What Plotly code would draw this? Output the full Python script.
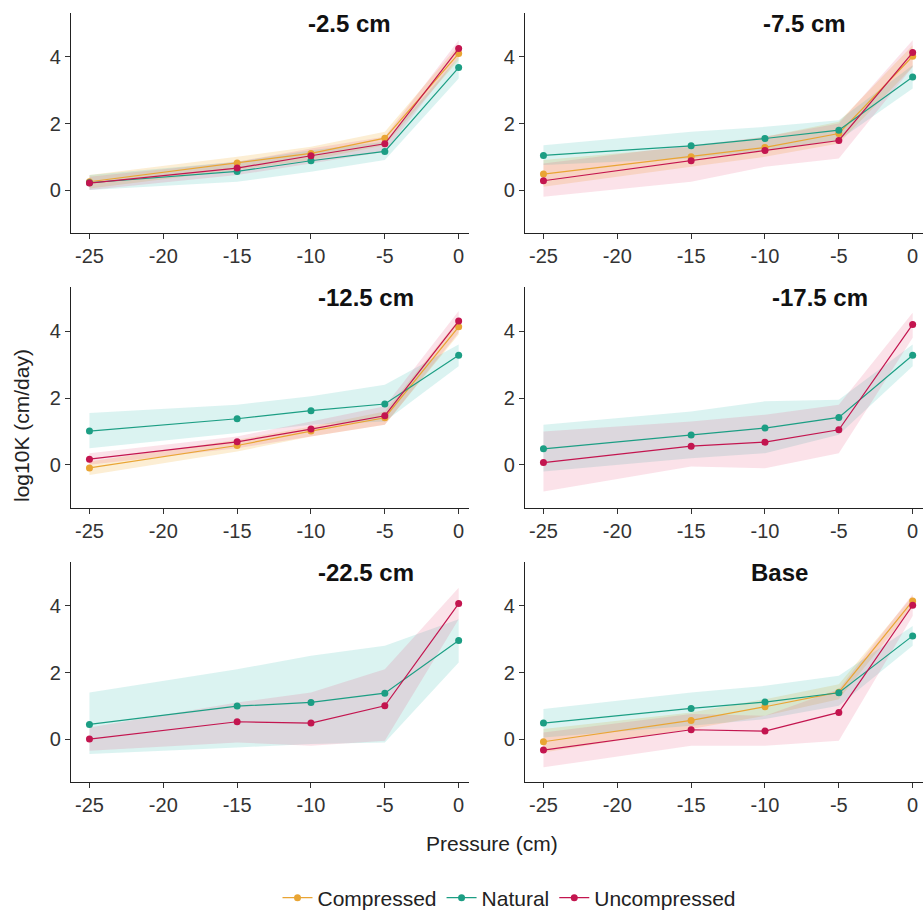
import plotly.graph_objects as go

# ---------------- data ----------------
pressure = [-25, -15, -10, -5, 0]
panels = ["-2.5 cm", "-7.5 cm", "-12.5 cm", "-17.5 cm", "-22.5 cm", "Base"]
series_names = ["Compressed", "Natural", "Uncompressed"]

compressed_mean = [
    [0.25, 0.81, 1.10, 1.56, 4.10],
    [0.48, 1.00, 1.28, 1.70, 4.02],
    [-0.09, 0.58, 1.01, 1.41, 4.13],
    None,
    None,
    [-0.08, 0.56, 0.97, 1.41, 4.15],
]
compressed_lo = [
    [0.05, 0.60, 0.90, 1.35, 3.90],
    [0.10, 0.70, 1.00, 1.40, 3.70],
    [-0.30, 0.40, 0.85, 1.20, 3.90],
    None,
    None,
    [-0.40, 0.30, 0.70, 1.20, 3.95],
]
compressed_hi = [
    [0.45, 1.00, 1.30, 1.75, 4.35],
    [0.90, 1.30, 1.60, 2.05, 4.35],
    [0.10, 0.75, 1.15, 1.60, 4.35],
    None,
    None,
    [0.30, 0.80, 1.20, 1.65, 4.30],
]

natural_mean = [
    [0.22, 0.56, 0.88, 1.16, 3.68],
    [1.04, 1.33, 1.55, 1.80, 3.40],
    [1.01, 1.38, 1.62, 1.82, 3.28],
    [0.48, 0.89, 1.10, 1.42, 3.28],
    [0.44, 0.99, 1.10, 1.38, 2.96],
    [0.48, 0.92, 1.11, 1.39, 3.10],
]
natural_lo = [
    [0.00, 0.25, 0.55, 0.90, 3.35],
    [0.75, 0.95, 1.20, 1.50, 3.05],
    [0.50, 0.95, 1.20, 1.30, 2.95],
    [-0.20, 0.20, 0.35, 0.90, 2.95],
    [-0.45, -0.25, -0.15, -0.10, 2.30],
    [0.05, 0.40, 0.60, 1.00, 2.80],
]
natural_hi = [
    [0.45, 0.85, 1.20, 1.45, 4.00],
    [1.35, 1.75, 1.90, 2.10, 3.75],
    [1.55, 1.80, 2.05, 2.40, 3.60],
    [1.20, 1.60, 1.90, 1.95, 3.60],
    [1.40, 2.10, 2.50, 2.80, 3.60],
    [0.90, 1.40, 1.60, 1.90, 3.40],
]

uncompressed_mean = [
    [0.21, 0.66, 1.03, 1.39, 4.25],
    [0.28, 0.88, 1.19, 1.49, 4.13],
    [0.17, 0.69, 1.07, 1.47, 4.30],
    [0.07, 0.56, 0.68, 1.05, 4.20],
    [0.00, 0.52, 0.48, 1.00, 4.07],
    [-0.33, 0.28, 0.24, 0.80, 4.02],
]
uncompressed_lo = [
    [0.00, 0.45, 0.80, 1.15, 4.00],
    [-0.20, 0.25, 0.70, 0.95, 3.70],
    [0.00, 0.50, 0.85, 1.20, 3.95],
    [-0.80, -0.05, -0.10, 0.35, 3.80],
    [-0.35, -0.10, -0.20, -0.05, 3.60],
    [-0.85, -0.20, -0.20, -0.05, 3.70],
]
uncompressed_hi = [
    [0.40, 0.85, 1.25, 1.60, 4.50],
    [0.80, 1.35, 1.60, 2.00, 4.50],
    [0.35, 0.85, 1.30, 1.75, 4.60],
    [1.00, 1.30, 1.50, 1.80, 4.55],
    [0.35, 1.10, 1.40, 2.10, 4.55],
    [0.20, 0.75, 0.70, 1.50, 4.35],
]

x_ticks = [-25, -20, -15, -10, -5, 0]
y_ticks = [0, 2, 4]
title_x = [-7.4, -7.35, -6.3, -6.3, -6.3, -9.0]

# ---------------- styling ----------------
W, H = 923, 912
FONT = "Liberation Sans, Arial, sans-serif"
line_colors = {"Compressed": "#E9A534", "Natural": "#1C9E84", "Uncompressed": "#C3154F"}
fill_colors = {
    "Compressed": "rgba(240,168,40,0.20)",
    "Natural": "rgba(40,185,170,0.17)",
    "Uncompressed": "rgba(230,60,110,0.15)",
}
means = {"Compressed": compressed_mean, "Natural": natural_mean, "Uncompressed": uncompressed_mean}
los = {"Compressed": compressed_lo, "Natural": natural_lo, "Uncompressed": uncompressed_lo}
his = {"Compressed": compressed_hi, "Natural": natural_hi, "Uncompressed": uncompressed_hi}

col_px = [(71, 469), (525, 923)]
col_range = [[-26.25, 0.7], [-26.25, 0.7]]
row_px = [(13, 233), (287, 508), (562, 782)]

fig = go.Figure()
layout = {}
for i, name in enumerate(panels):
    r, c = divmod(i, 2)
    ax = "" if i == 0 else str(i + 1)
    xa, ya = "x" + ax, "y" + ax
    x0, x1 = col_px[c]
    t, b = row_px[r]
    layout["xaxis" + ax] = dict(
        domain=[x0 / W, x1 / W], anchor=ya, range=col_range[c],
        tickvals=x_ticks, ticktext=[str(v) for v in x_ticks],
        showgrid=False, zeroline=False, showline=True, linecolor="#222", linewidth=1.3,
        ticks="outside", ticklen=5, tickwidth=1.1, tickcolor="#333",
        tickfont=dict(family=FONT, size=20, color="#333"),
        ticklabeloverflow="allow",
    )
    layout["yaxis" + ax] = dict(
        domain=[1 - b / H, 1 - t / H], anchor=xa, range=[-1.29, 5.32],
        tickvals=y_ticks, ticktext=[str(v) for v in y_ticks],
        showgrid=False, zeroline=False, showline=True, linecolor="#222", linewidth=1.3,
        ticks="outside", ticklen=5, tickwidth=1.1, tickcolor="#333",
        tickfont=dict(family=FONT, size=20, color="#333"),
    )
    for s in series_names:
        m = means[s][i]
        if m is None:
            continue
        lo, hi = los[s][i], his[s][i]
        fig.add_trace(go.Scatter(
            x=pressure + pressure[::-1], y=hi + lo[::-1], xaxis=xa, yaxis=ya,
            fill="toself", fillcolor=fill_colors[s], line=dict(width=0),
            mode="lines", hoverinfo="skip", showlegend=False,
        ))
    for s in series_names:
        m = means[s][i]
        if m is None:
            continue
        fig.add_trace(go.Scatter(
            x=pressure, y=m, xaxis=xa, yaxis=ya, mode="lines+markers", name=s,
            line=dict(color=line_colors[s], width=1.2),
            marker=dict(color=line_colors[s], size=7),
            showlegend=(i == 0), legendgroup=s,
        ))

annotations = []
for i, name in enumerate(panels):
    ax = "" if i == 0 else str(i + 1)
    annotations.append(dict(
        x=title_x[i], y=5.0, xref="x" + ax, yref="y" + ax, text="<b>%s</b>" % name,
        showarrow=False, font=dict(family=FONT, size=24, color="#111"),
        xanchor="center", yanchor="middle",
    ))
annotations.append(dict(
    x=492 / W, y=1 - 843 / H, xref="paper", yref="paper", text="Pressure (cm)",
    showarrow=False, font=dict(family=FONT, size=21, color="#222"),
    xanchor="center", yanchor="middle",
))
annotations.append(dict(
    x=22 / W, y=1 - 426 / H, xref="paper", yref="paper", text="log10K (cm/day)",
    showarrow=False, textangle=-90, font=dict(family=FONT, size=21, color="#222"),
    xanchor="center", yanchor="middle",
))

fig.update_layout(
    **layout,
    annotations=annotations,
    width=W, height=H,
    margin=dict(l=0, r=0, t=0, b=0, autoexpand=False),
    paper_bgcolor="white", plot_bgcolor="white",
    showlegend=True,
    legend=dict(
        orientation="h", x=509 / W, y=1 - 898 / H, xanchor="center", yanchor="middle",
        font=dict(family=FONT, size=21, color="#222"), itemwidth=30,
        bgcolor="rgba(0,0,0,0)", tracegroupgap=0,
    ),
    font=dict(family=FONT),
)

# remove the default page margin so the figure fills the window exactly
fig.write_html(
    "out.html",
    config={"displayModeBar": False},
    post_script="document.body.style.margin='0';document.body.style.overflow='hidden';",
)
